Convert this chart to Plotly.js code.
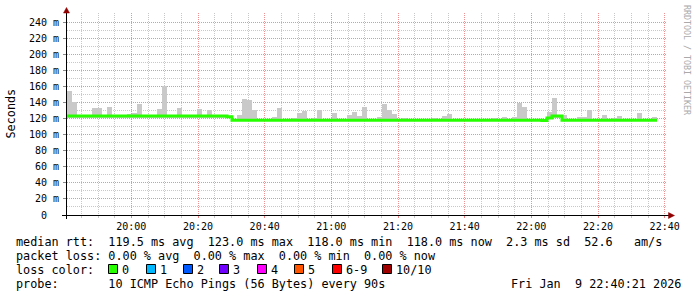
<!DOCTYPE html>
<html><head><meta charset="utf-8">
<script src="https://cdn.plot.ly/plotly-3.0.1.min.js"></script>
<style>html,body{margin:0;padding:0;background:#fff;}#chart{width:697px;height:297px;}</style>
</head><body><div id="chart"></div>
<script>
// ---------------- data ----------------
const startTimeUTC = Date.UTC(2026, 0, 9, 19, 40, 42);
const stepSeconds = 90;

// median RTT (ms) per 90 s step
const medianRtt = [
  123,123,123,123,123,123,123,123,123,123,
  123,123,123,123,123,123,123,123,123,123,
  123,123,123,123,123,123,123,123,123,123,
  123,123,122.3,118,118,118,118,118,118,118,
  118,118,118,118,118,118,118,118,118,118,
  118,118,118,118,118,118,118,118,118,118,
  118,118,118,118,118,118,118,118,118,118,
  118,118,118,118,118,118,118,118,118,118,
  118,118,118,118,118,118,118,118,118,118,
  118,118,118,118,118,117.6,120.8,123,123,118,
  118,118,118,118,118,118,118,118,118,118,
  118,118,118,118,118,118,118,118
];
// smoke (ping spread) bottom / top in ms
const smokeLow = [
  121,121,121,121,121,121,121,121,121,121,
  121,121,121,121,121,121,121,121,121,121,
  121,121,121,121,121,121,121,121,121,121,
  121,121,121,116.5,116.5,116.5,116.5,116.5,116.5,116.5,
  116.5,116.5,116.5,116.5,116.5,116.5,116.5,116.5,116.5,116.5,
  116.5,116.5,116.5,116.5,116.5,116.5,116.5,116.5,116.5,116.5,
  116.5,116.5,116.5,116.5,116.5,116.5,116.5,116.5,116.5,116.5,
  116.5,116.5,116.5,116.5,116.5,116.5,116.5,116.5,116.5,116.5,
  116.5,116.5,116.5,116.5,116.5,116.5,116.5,116.5,116.5,116.5,
  116.5,116.5,116.5,116.5,116.5,116.5,119,121,121,116.5,
  116.5,116.5,116.5,116.5,116.5,116.5,116.5,116.5,116.5,116.5,
  116.5,116.5,116.5,116.5,116.5,116.5,116.5,116.5
];
const smokeHigh = [
  154,140,124,124,124,133,133,125,134,124,
  124,125,126,127,138,124,124,124,132,160,
  124,125,133,124,124,125,132,124,131,125,
  124,124,123,119,124,144,143,131,119,119,
  119,122,133,119,119,121,127,129,119,121,
  131,119,119,127,119,119,124,128,123,134,
  119,119,122,138,131,126,119,121,119,119,
  119,119,119,121,119,123,126,119,119,119,
  119,119,119,119,119,121,119,122,119,122,
  139,134,119,119,119,119,128,146,124,124,
  119,119,122,122,131,119,119,124,119,121,
  123,119,119,119,127,119,119,122
];

const yTickValues = [0,20,40,60,80,100,120,140,160,180,200,220,240];
const yTickLabels = ['0\u00a0\u00a0','20 m','40 m','60 m','80 m','100 m','120 m','140 m','160 m','180 m','200 m','220 m','240 m'];
const yMinorValues = [10,30,50,70,90,110,130,150,170,190,210,230];

const statsLines = [
  'median rtt:  119.5 ms avg  123.0 ms max  118.0 ms min  118.0 ms now  2.3 ms sd  52.6   am/s',
  'packet loss: 0.00 % avg  0.00 % max  0.00 % min  0.00 % now',
  'loss color:',
  'probe:       10 ICMP Echo Pings (56 Bytes) every 90s'
];
const lossLabels = ['0','1','2','3','4','5','6-9','10/10'];
const lossColors = ['#26ff00','#00b8ff','#0059ff','#7000ff','#ff00ff','#ff5500','#ff0000','#a00000'];
const dateText = 'Fri Jan  9 22:40:21 2026';
const yTitle = 'Seconds';
const watermark = 'RRDTOOL / TOBI OETIKER';

// ---------------- layout constants ----------------
const FIG_W = 697, FIG_H = 297;
const L = 67, T = 13, W = 600, H = 202;
const px = v => (v - L) / W;
const py = v => (T + H - v) / H;
const MONO = 'DejaVu Sans Mono, monospace';
const lossSquareX = [108, 146, 183, 219, 257, 294, 332, 382];

function fmt(ms) {
  return new Date(ms).toISOString().replace('T', ' ').slice(0, 19);
}
const n = medianRtt.length;
const times = [];
for (let i = 0; i <= n; i++) times.push(fmt(startTimeUTC + i * stepSeconds * 1000));
const stepTimes = times.slice(0, n);
const rangeStart = fmt(startTimeUTC);
const rangeEnd = fmt(startTimeUTC + 180 * 60 * 1000);

const nb = s => s.replace(/ /g, '\u00a0');

// ---------------- traces ----------------
const smoke = {
  type: 'bar',
  x: stepTimes,
  base: smokeLow,
  y: smokeHigh.map((h, i) => h - smokeLow[i]),
  width: stepSeconds * 1000,
  offset: 0,
  marker: { color: '#c9c9c9', line: { width: 0 } },
  hoverinfo: 'skip'
};
const median = {
  type: 'scatter',
  mode: 'lines',
  x: times,
  y: medianRtt.concat([medianRtt[n - 1]]),
  line: { color: '#26ff00', width: 3, shape: 'hv' },
  hoverinfo: 'skip'
};

// ---------------- annotations & shapes ----------------
const annotations = [];
const baseAnn = { xref: 'paper', yref: 'paper', showarrow: false, borderpad: 0, borderwidth: 0 };
const rowCenters = [242, 256, 270, 284];
statsLines.forEach((s, k) => {
  annotations.push(Object.assign({}, baseAnn, {
    x: px(16), y: py(rowCenters[k]), xanchor: 'left', yanchor: 'middle',
    text: nb(s), font: { family: MONO, size: 11.8, color: '#000' }
  }));
});
lossLabels.forEach((lab, k) => {
  annotations.push(Object.assign({}, baseAnn, {
    x: px(lossSquareX[k] + 14), y: py(rowCenters[2]), xanchor: 'left', yanchor: 'middle',
    text: lab, font: { family: MONO, size: 11.8, color: '#000' }
  }));
});
annotations.push(Object.assign({}, baseAnn, {
  x: px(681), y: py(rowCenters[3]), xanchor: 'right', yanchor: 'middle',
  text: nb(dateText), font: { family: MONO, size: 11.8, color: '#000' }
}));
annotations.push(Object.assign({}, baseAnn, {
  x: px(10.5), y: py(114), xanchor: 'center', yanchor: 'middle', textangle: -90,
  text: yTitle, font: { family: MONO, size: 11.8, color: '#000' }
}));
annotations.push(Object.assign({}, baseAnn, {
  x: px(687), y: py(60), xanchor: 'center', yanchor: 'middle', textangle: 90,
  text: nb(watermark), font: { family: MONO, size: 8.3, color: '#aaaaaa' }
}));

const shapes = [];
lossColors.forEach((c, k) => {
  shapes.push({ type: 'rect', xref: 'paper', yref: 'paper', layer: 'above',
    x0: px(lossSquareX[k] + 0.5), x1: px(lossSquareX[k] + 9.5), y0: py(273.5), y1: py(264.5),
    fillcolor: c, line: { color: '#000', width: 1 } });
});
// axes with overshoot
shapes.push({ type: 'line', xref: 'paper', yref: 'paper', layer: 'above',
  x0: px(66.5), x1: px(66.5), y0: py(219), y1: py(12), line: { color: '#000', width: 1 } });
shapes.push({ type: 'line', xref: 'paper', yref: 'paper', layer: 'above',
  x0: px(62), x1: px(669), y0: py(215.5), y1: py(215.5), line: { color: '#000', width: 1 } });
// arrows
shapes.push({ type: 'path', xref: 'paper', yref: 'paper', layer: 'above',
  path: `M ${px(66.5)} ${py(7.5)} L ${px(63.5)} ${py(13)} L ${px(69.5)} ${py(13)} Z`,
  fillcolor: '#900000', line: { color: '#900000', width: 0.5 } });
shapes.push({ type: 'path', xref: 'paper', yref: 'paper', layer: 'above',
  path: `M ${px(674.5)} ${py(215.5)} L ${px(668.5)} ${py(212.5)} L ${px(668.5)} ${py(218.5)} Z`,
  fillcolor: '#900000', line: { color: '#900000', width: 0.5 } });

const layout = {
  width: FIG_W, height: FIG_H,
  margin: { l: L, r: FIG_W - L - W, t: T, b: FIG_H - T - H, pad: 0 },
  paper_bgcolor: '#ffffff', plot_bgcolor: '#ffffff',
  showlegend: false,
  bargap: 0,
  xaxis: {
    type: 'date', range: [rangeStart, rangeEnd], fixedrange: true,
    tick0: '2026-01-09 20:00:00', dtick: 20 * 60 * 1000, tickformat: '%H:%M',
    ticks: 'outside', ticklen: 2, tickcolor: '#f08080',
    tickfont: { family: MONO, size: 10, color: '#000' },
    showgrid: true, gridcolor: '#f09090', griddash: '1px,1px', gridwidth: 1,
    zeroline: false, showline: false,
    minor: { tick0: '2026-01-09 20:00:00', dtick: 5 * 60 * 1000, showgrid: true,
      gridcolor: '#c8c8c8', griddash: '1px,1px', ticks: 'outside', ticklen: 2, tickcolor: '#c8c8c8' }
  },
  yaxis: {
    range: [0, H / 0.804], fixedrange: true,
    tickmode: 'array', tickvals: yTickValues, ticktext: yTickLabels,
    ticks: 'outside', ticklen: 3, tickcolor: '#888',
    tickfont: { family: MONO, size: 10, color: '#000' },
    ticklabelstandoff: 2,
    showgrid: true, gridcolor: '#f09090', griddash: '1px,1px', gridwidth: 1,
    zeroline: false, showline: false,
    minor: { tickmode: 'array', tickvals: yMinorValues, showgrid: true,
      gridcolor: '#c8c8c8', griddash: '1px,1px', ticks: '' }
  },
  annotations: annotations,
  shapes: shapes
};

Plotly.newPlot('chart', [smoke, median], layout, { staticPlot: true, displayModeBar: false });
</script>
</body></html>
